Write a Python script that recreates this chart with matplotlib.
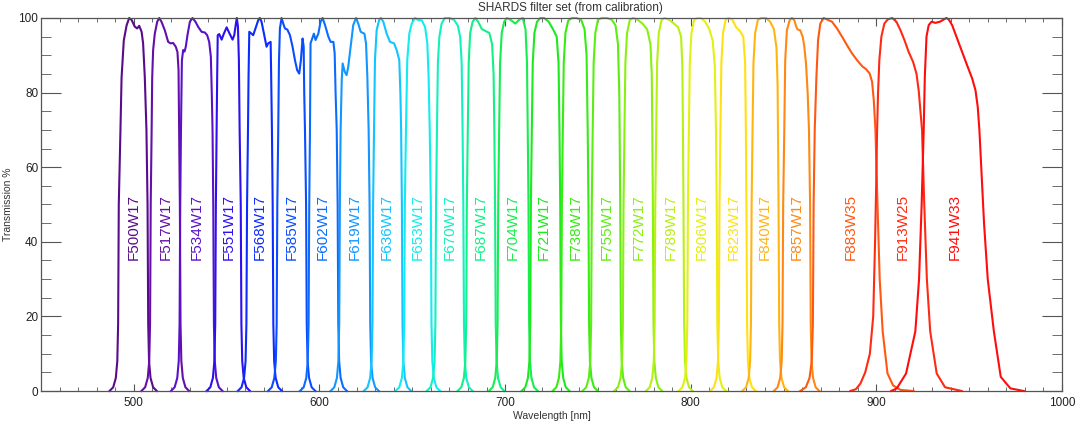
"""
SHARDS filter set transmission curves (from calibration).
"""

import matplotlib
matplotlib.use("Agg")
import matplotlib.pyplot as plt
from matplotlib.ticker import MultipleLocator

plt.rcParams.update({
    "font.family": ["Liberation Sans", "DejaVu Sans"],
    "font.size": 8.5,
})

# ── Data ─────────────────────────────────────────────────────────────────────
FILTER_NAMES = ["F500W17", "F517W17", "F534W17", "F551W17", "F568W17", "F585W17",
                "F602W17", "F619W17", "F636W17", "F653W17", "F670W17", "F687W17",
                "F704W17", "F721W17", "F738W17", "F755W17", "F772W17", "F789W17",
                "F806W17", "F823W17", "F840W17", "F857W17", "F883W35", "F913W25",
                "F941W33"]
# where each name sits along the wavelength axis
LABEL_X = [500, 517, 534, 551, 568, 585, 602, 619, 636, 653, 670, 687, 704,
           721, 738, 755, 772, 789, 806, 823, 840, 857, 886, 914, 942]
FILTER_COLORS = ["#5a0b8c", "#650fa8", "#5a12c8", "#2c10ee", "#0c2cff", "#0a4cff",
                 "#0a6cff", "#1296ff", "#12c4ff", "#12ecf0", "#12f0c0", "#12f088",
                 "#18ec50", "#1ee81e", "#36ec12", "#5cee12", "#8af012", "#b8f012",
                 "#e4f012", "#ffe012", "#ffb412", "#ff8812", "#ff5812", "#ff2a12",
                 "#ff0c0c"]

F500_WAVE = [486.9, 488.9, 490.3, 491.1, 491.55, 491.9, 492.8, 493.4, 494.6, 496.1, 497.5,
             498.8, 500.5, 501.8, 502.9, 504.2, 505.0, 505.9, 506.8, 507.4, 507.75, 508.2,
             509.0, 510.4, 512.4]
F500_TRANS = [0, 1, 3.5, 8, 18, 50, 70, 84, 94, 98, 100, 99.5, 97.7, 97.2, 97.9, 96.3,
              93.2, 84.3, 70, 50, 18, 8, 3.5, 1, 0]

F517_WAVE = [504.1, 506.1, 507.5, 508.3, 508.75, 509.1, 509.6, 509.9, 510.4, 511.3, 512.6,
             513.7, 514.9, 516.7, 518.5, 519.8, 521.2, 522.6, 523.5, 524.1, 524.4, 524.8,
             525.15, 525.6, 526.4, 527.8, 529.8]
F517_TRANS = [0, 1, 3.5, 8, 18, 50, 70, 84, 91.4, 95.8, 99, 100, 99, 96.7, 93.6, 93.2,
              93.3, 92.3, 90.9, 86, 70, 50, 18, 8, 3.5, 1, 0]

F534_WAVE = [520.0, 522.0, 523.4, 524.2, 524.65, 525.0, 525.4, 525.9, 526.6, 527.3, 528.0,
             528.9, 530.2, 531.6, 533.2, 534.7, 536.5, 538.3, 539.5, 540.6, 541.5, 542.0,
             542.4, 542.8, 543.15, 543.6, 544.4, 545.8, 547.8]
F534_TRANS = [0, 1, 3.5, 8, 18, 50, 70, 88.7, 91.4, 91.0, 92.3, 95.4, 99, 100, 99, 97.6,
              96.3, 96.1, 95.4, 93.6, 89.6, 79.8, 70, 50, 18, 8, 3.5, 1, 0]

F551_WAVE = [539.2, 541.2, 542.6, 543.4, 543.85, 544.2, 544.6, 544.9, 545.2, 546.0, 547.3,
             548.5, 550.0, 551.4, 553.2, 554.1, 555.0, 555.5, 556.1, 556.6, 557.0, 557.6,
             557.95, 558.4, 559.2, 560.6, 562.6]
F551_TRANS = [0, 1, 3.5, 8, 18, 50, 70, 84.2, 95.4, 95.7, 94.2, 95.8, 97.5, 96.0, 94.2,
              95.4, 98.5, 100, 97.6, 88.7, 70, 50, 18, 8, 3.5, 1, 0]

F568_WAVE = [556.0, 558.0, 559.4, 560.2, 560.65, 561.0, 561.5, 561.8, 562.2, 563.4, 564.3,
             565.8, 567.0, 567.9, 568.8, 570.1, 571.5, 572.4, 573.7, 574.0, 574.4, 574.8,
             575.15, 575.6, 576.4, 577.8, 579.8]
F568_TRANS = [0, 1, 3.5, 8, 18, 50, 70, 84.2, 96.3, 95.8, 95.4, 97.6, 99.4, 100, 99.0,
              95.8, 92.3, 93.2, 93.6, 84.2, 70, 50, 18, 8, 3.5, 1, 0]

F585_WAVE = [572.3, 574.3, 575.7, 576.5, 576.95, 577.3, 577.8, 578.2, 578.7, 579.6, 580.5,
             581.4, 582.7, 584.1, 585.5, 586.8, 588.0, 589.1, 590.0, 590.9, 591.5, 591.8,
             592.2, 592.8, 593.15, 593.6, 594.4, 595.8, 597.8]
F585_TRANS = [0, 1, 3.5, 8, 18, 50, 70, 88.7, 97.2, 100, 98.5, 97.2, 96.9, 95.4, 92.3,
              88.7, 86.0, 85.1, 88.7, 94.5, 92.3, 79.8, 70, 50, 18, 8, 3.5, 1, 0]

F602_WAVE = [589.5, 591.5, 592.9, 593.7, 594.15, 594.5, 594.9, 595.2, 596.1, 597.0, 597.9,
             599.4, 600.6, 601.7, 603.0, 604.8, 606.0, 607.5, 608.2, 608.7, 609.3, 609.8,
             610.15, 610.6, 611.4, 612.8, 614.8]
F602_TRANS = [0, 1, 3.5, 8, 18, 50, 70, 93.2, 94.5, 95.8, 94.1, 95.8, 99.0, 100, 98.1,
              95.0, 93.6, 93.6, 90.5, 79.8, 70, 50, 18, 8, 3.5, 1, 0]

F619_WAVE = [606.0, 608.0, 609.4, 610.2, 610.65, 611.0, 611.4, 612.0, 612.5, 613.6, 614.6,
             615.5, 616.8, 618.2, 619.7, 620.9, 622.2, 624.2, 625.1, 625.8, 626.5, 627.0,
             627.35, 627.8, 628.6, 630.0, 632.0]
F619_TRANS = [0, 1, 3.5, 8, 18, 50, 70, 83.3, 87.8, 85.6, 84.7, 86.9, 92.3, 98.1, 100,
              98.5, 96.3, 95.8, 93.2, 84.2, 70, 50, 18, 8, 3.5, 1, 0]

F636_WAVE = [623.9, 625.9, 627.3, 628.1, 628.55, 628.9, 629.4, 629.9, 630.8, 632.1, 633.1,
             634.4, 636.2, 638.0, 640.2, 641.6, 643.0, 643.6, 644.0, 644.4, 644.75, 645.2,
             646.0, 647.4, 649.4]
F636_TRANS = [0, 1, 3.5, 8, 18, 50, 70, 88.7, 96.7, 99.4, 100, 99.0, 95.8, 93.6, 93.2,
              91.4, 88.7, 79.8, 70, 50, 18, 8, 3.5, 1, 0]

F653_WAVE = [641.0, 643.0, 644.4, 645.2, 645.65, 646.0, 646.6, 647.3, 648.4, 649.7, 651.5,
             653.3, 655.1, 656.9, 658.1, 658.8, 659.4, 660.0, 660.35, 660.8, 661.6, 663.0,
             665.0]
F653_TRANS = [0, 1, 3.5, 8, 18, 50, 70, 88.7, 95.8, 98.5, 100, 99.4, 99.4, 97.6, 93.2,
              84.2, 70, 50, 18, 8, 3.5, 1, 0]

F670_WAVE = [657.8, 659.8, 661.2, 662.0, 662.45, 662.8, 663.3, 663.8, 664.6, 665.8, 667.5,
             670.0, 672.5, 674.5, 675.8, 676.6, 677.1, 677.5, 677.85, 678.3, 679.1, 680.5,
             682.5]
F670_TRANS = [0, 1, 3.5, 8, 18, 50, 70, 88, 95, 98.5, 100, 100, 99.5, 98, 95, 88, 70, 50,
              18, 8, 3.5, 1, 0]

F687_WAVE = [674.4, 676.4, 677.8, 678.6, 679.05, 679.4, 679.9, 680.4, 681.2, 682.5, 684.0,
             685.5, 687.5, 689.5, 691.5, 693.0, 693.8, 694.2, 694.6, 694.95, 695.4, 696.2,
             697.6, 699.6]
F687_TRANS = [0, 1, 3.5, 8, 18, 50, 70, 88, 96, 99, 100, 99, 97, 96.5, 96, 93, 85, 70,
              50, 18, 8, 3.5, 1, 0]

F704_WAVE = [691.3, 693.3, 694.7, 695.5, 695.95, 696.3, 696.8, 697.3, 698.2, 699.5, 701.0,
             703.0, 705.5, 707.5, 709.5, 711.0, 711.8, 712.2, 712.6, 712.95, 713.4, 714.2,
             715.6, 717.6]
F704_TRANS = [0, 1, 3.5, 8, 18, 50, 70, 88, 96, 99, 100, 99.5, 98.5, 99.5, 100, 97, 88,
              70, 50, 18, 8, 3.5, 1, 0]

F721_WAVE = [708.9, 710.9, 712.3, 713.1, 713.55, 713.9, 714.4, 714.9, 715.8, 717.2, 719.0,
             721.0, 723.5, 725.8, 727.8, 728.8, 729.3, 729.7, 730.05, 730.5, 731.3, 732.7,
             734.7]
F721_TRANS = [0, 1, 3.5, 8, 18, 50, 70, 88, 96, 99, 100, 100, 99, 97, 95, 88, 70, 50, 18,
              8, 3.5, 1, 0]

F738_WAVE = [725.6, 727.6, 729.0, 729.8, 730.25, 730.6, 731.1, 731.6, 732.5, 734.0, 736.0,
             738.5, 741.0, 742.8, 743.9, 744.5, 744.9, 745.25, 745.7, 746.5, 747.9, 749.9]
F738_TRANS = [0, 1, 3.5, 8, 18, 50, 70, 88, 96, 99.3, 100, 100, 99.5, 97, 90, 70, 50, 18,
              8, 3.5, 1, 0]

F755_WAVE = [741.7, 743.7, 745.1, 745.9, 746.35, 746.7, 747.2, 747.7, 748.6, 750.0, 752.0,
             755.0, 757.5, 759.5, 760.8, 761.5, 761.7, 762.0, 762.35, 762.8, 763.6, 765.0,
             767.0]
F755_TRANS = [0, 1, 3.5, 8, 18, 50, 70, 88, 96, 99.5, 100, 100, 99.5, 98, 93, 80, 70, 50,
              18, 8, 3.5, 1, 0]

F772_WAVE = [758.8, 760.8, 762.2, 763.0, 763.45, 763.8, 764.3, 764.8, 765.7, 767.2, 769.0,
             771.5, 774.0, 776.5, 778.3, 779.0, 779.3, 779.6, 779.95, 780.4, 781.2, 782.6,
             784.6]
F772_TRANS = [0, 1, 3.5, 8, 18, 50, 70, 88, 96, 99.5, 100, 99.5, 98.5, 97, 93, 85, 70, 50,
              18, 8, 3.5, 1, 0]

F789_WAVE = [775.9, 777.9, 779.3, 780.1, 780.55, 780.9, 781.4, 781.9, 782.8, 784.3, 786.0,
             788.5, 791.0, 793.2, 794.8, 795.5, 795.8, 796.1, 796.45, 796.9, 797.7, 799.1,
             801.1]
F789_TRANS = [0, 1, 3.5, 8, 18, 50, 70, 88, 96, 99.5, 100, 99.5, 98.5, 97.5, 95, 87, 70,
              50, 18, 8, 3.5, 1, 0]

F806_WAVE = [793.5, 795.5, 796.9, 797.7, 798.15, 798.5, 799.0, 799.5, 800.4, 801.8, 803.5,
             805.5, 807.8, 810.0, 811.8, 813.0, 813.6, 814.0, 814.35, 814.8, 815.6, 817.0,
             819.0]
F806_TRANS = [0, 1, 3.5, 8, 18, 50, 70, 88, 96, 99.5, 100, 100, 99, 97, 94, 87, 70, 50,
              18, 8, 3.5, 1, 0]

F823_WAVE = [810.5, 812.5, 813.9, 814.7, 815.15, 815.5, 816.0, 816.5, 817.4, 818.8, 820.5,
             822.5, 824.5, 826.5, 828.3, 829.3, 829.7, 830.0, 830.35, 830.8, 831.6, 833.0,
             835.0]
F823_TRANS = [0, 1, 3.5, 8, 18, 50, 70, 88, 96, 99.5, 100, 99.5, 97.5, 96.5, 95, 88, 70,
              50, 18, 8, 3.5, 1, 0]

F840_WAVE = [827.8, 829.8, 831.2, 832.0, 832.45, 832.8, 833.3, 833.8, 834.7, 836.2, 838.0,
             840.5, 842.8, 844.8, 846.2, 846.8, 847.0, 847.3, 847.65, 848.1, 848.9, 850.3,
             852.3]
F840_TRANS = [0, 1, 3.5, 8, 18, 50, 70, 88, 96, 99.5, 100, 100, 99, 97, 92, 82, 70, 50,
              18, 8, 3.5, 1, 0]

F857_WAVE = [844.8, 846.8, 848.2, 849.0, 849.45, 849.8, 850.4, 850.9, 851.8, 853.3, 854.5,
             855.8, 856.9, 857.6, 859.0, 860.3, 861.2, 862.1, 863.0, 863.7, 864.3, 864.65,
             865.1, 865.9, 867.3, 869.3]
F857_TRANS = [0, 1, 3.5, 8, 18, 50, 70, 88.7, 96.7, 99.4, 100, 99.4, 97.6, 96.9, 96.7,
              95.0, 92.3, 87.8, 79.8, 70, 50, 18, 8, 3.5, 1, 0]

F883_WAVE = [859.0, 862.0, 864.0, 865.2, 865.8, 866.2, 866.8, 867.7, 868.6, 869.8, 871.6,
             873.4, 876.1, 878.8, 881.5, 884.2, 886.9, 889.6, 892.3, 894.6, 896.4, 897.7,
             898.6, 899.5, 900.6, 901.8, 903.4, 906.0, 909.0, 913.0, 920.0]
F883_TRANS = [0, 1, 3.5, 8, 18, 50, 70, 84.2, 94.1, 98.5, 100, 99.6, 99.0, 97.2, 95.0,
              92.7, 90.5, 88.7, 87.1, 86.2, 85.1, 82.9, 78.0, 70, 50, 30, 16, 4.7, 1.5,
              0.3, 0]

F913_WAVE = [886.0, 889.0, 891.4, 894.0, 896.5, 898.3, 899.3, 899.9, 900.4, 900.9, 901.6,
             902.7, 904.3, 906.1, 908.5, 910.8, 913.0, 915.1, 917.4, 919.8, 921.6, 922.8,
             923.7, 924.6, 925.8, 927.2, 929.0, 932.5, 937.0, 946.0]
F913_TRANS = [0, 0.5, 2, 5, 10, 20, 40, 55, 70, 79.8, 88.7, 95.0, 98.5, 99.6, 100, 99.0,
              96.7, 94.1, 90.9, 88.2, 85.1, 80.6, 75.3, 70, 50, 30, 16, 4.7, 1, 0]

F941_WAVE = [908.0, 911.0, 916.0, 921.0, 923.0, 924.4, 925.5, 926.1, 927.0, 928.2, 929.7,
             931.8, 934.2, 936.3, 937.7, 939.0, 940.8, 943.5, 946.2, 948.9, 951.6, 953.4,
             954.6, 955.5, 956.5, 958.0, 960.0, 963.3, 967.0, 972.2, 979.4]
F941_TRANS = [0, 0.7, 4.7, 16, 30, 50, 70, 84.2, 95.0, 98.1, 99.0, 98.7, 99.0, 99.6, 100,
              99.6, 98.1, 94.5, 90.9, 87.3, 83.8, 80.6, 76.2, 70, 60, 45, 30, 16, 3.8,
              0.7, 0]

CURVES = [(F500_WAVE, F500_TRANS), (F517_WAVE, F517_TRANS), (F534_WAVE, F534_TRANS),
          (F551_WAVE, F551_TRANS), (F568_WAVE, F568_TRANS), (F585_WAVE, F585_TRANS),
          (F602_WAVE, F602_TRANS), (F619_WAVE, F619_TRANS), (F636_WAVE, F636_TRANS),
          (F653_WAVE, F653_TRANS), (F670_WAVE, F670_TRANS), (F687_WAVE, F687_TRANS),
          (F704_WAVE, F704_TRANS), (F721_WAVE, F721_TRANS), (F738_WAVE, F738_TRANS),
          (F755_WAVE, F755_TRANS), (F772_WAVE, F772_TRANS), (F789_WAVE, F789_TRANS),
          (F806_WAVE, F806_TRANS), (F823_WAVE, F823_TRANS), (F840_WAVE, F840_TRANS),
          (F857_WAVE, F857_TRANS), (F883_WAVE, F883_TRANS), (F913_WAVE, F913_TRANS),
          (F941_WAVE, F941_TRANS)]

LABEL_Y = 35
AXIS_GREY = "#555555"

# ── Figure ───────────────────────────────────────────────────────────────────
fig = plt.figure(figsize=(10.75, 4.23), dpi=100)
ax = fig.add_axes([41 / 1075, 1 - 391 / 423, 1021 / 1075, 373 / 423])

for (wave, trans), name, lx, col in zip(CURVES, FILTER_NAMES, LABEL_X, FILTER_COLORS):
    ax.plot(wave, trans, color=col, lw=1.5, solid_joinstyle="round", clip_on=False)
    ax.text(lx, LABEL_Y, name, rotation=90, ha="center", va="bottom",
            color=col, fontsize=11)

ax.set_xlim(450, 1000)
ax.set_ylim(0, 100)
ax.xaxis.set_major_locator(MultipleLocator(100))
ax.xaxis.set_minor_locator(MultipleLocator(10))
ax.yaxis.set_major_locator(MultipleLocator(20))
ax.yaxis.set_minor_locator(MultipleLocator(5))

ax.tick_params(axis="both", which="both", direction="in", top=True, right=True,
               color=AXIS_GREY, labelcolor="#222222", labelsize=8.5)
ax.tick_params(axis="x", which="major", length=5.4, pad=4)
ax.tick_params(axis="x", which="minor", length=2.7)
ax.tick_params(axis="y", which="major", length=14.4, pad=2)
ax.tick_params(axis="y", which="minor", length=7.2)
for sp in ax.spines.values():
    sp.set_color(AXIS_GREY)
    sp.set_linewidth(0.9)

ax.set_xlabel("Wavelength [nm]", fontsize=7.5, color="#333333", labelpad=2)
ax.set_ylabel("Transmission %", fontsize=7.5, color="#333333")
ax.yaxis.set_label_coords(-28 / 1021, 0.5)
fig.text(570 / 1075, 1 - 8 / 423, "SHARDS filter set (from calibration)",
         ha="center", va="center", fontsize=8.5, color="#333333")

fig.savefig("out.png", dpi=100)
